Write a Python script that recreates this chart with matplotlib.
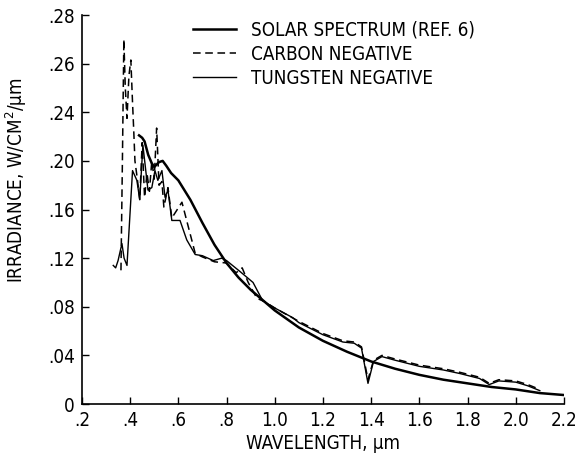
import matplotlib
matplotlib.use("Agg")
import matplotlib.pyplot as plt

plt.rcParams['font.family'] = ['DejaVu Sans']
plt.rcParams['font.stretch'] = 'condensed'

# solar spectrum (ref. 6)
solar_x = [0.437, 0.45, 0.46, 0.475, 0.49, 0.50, 0.52, 0.535, 0.55, 0.57, 0.60, 0.65, 0.70,
           0.75, 0.80, 0.85, 0.90, 1.0, 1.1, 1.2, 1.3, 1.4, 1.5, 1.6, 1.7, 1.8, 1.9, 2.0, 2.1, 2.2]
solar_y = [0.221, 0.219, 0.216, 0.205, 0.198, 0.195, 0.199, 0.200, 0.196, 0.190, 0.184, 0.168, 0.149,
           0.131, 0.116, 0.104, 0.094, 0.077, 0.063, 0.052, 0.043, 0.035, 0.029, 0.024, 0.020, 0.017,
           0.014, 0.012, 0.009, 0.0074]

# tungsten negative
tung_x = [0.33, 0.34, 0.35, 0.366, 0.375, 0.387, 0.41, 0.428, 0.44, 0.453, 0.474, 0.49, 0.503, 0.515,
          0.532, 0.545, 0.557, 0.573, 0.607, 0.635, 0.67, 0.70, 0.745, 0.78, 0.80, 0.856, 0.91, 0.95,
          1.0, 1.075, 1.1, 1.2, 1.283, 1.33, 1.36, 1.387, 1.41, 1.445, 1.5, 1.6, 1.7, 1.77, 1.85,
          1.89, 1.93, 2.0, 2.05, 2.1]
tung_y = [0.114, 0.112, 0.118, 0.132, 0.120, 0.114, 0.192, 0.184, 0.168, 0.213, 0.176, 0.178, 0.192,
          0.184, 0.192, 0.170, 0.176, 0.151, 0.151, 0.135, 0.123, 0.122, 0.118, 0.120, 0.118, 0.109,
          0.100, 0.085, 0.079, 0.071, 0.067, 0.057, 0.051, 0.050, 0.046, 0.017, 0.035, 0.039, 0.036,
          0.031, 0.028, 0.025, 0.021, 0.016, 0.019, 0.018, 0.015, 0.011]

# carbon negative
carb_x = [0.362, 0.368, 0.374, 0.38, 0.387, 0.395, 0.403, 0.41, 0.415, 0.42, 0.43, 0.44, 0.45, 0.46,
          0.47, 0.48, 0.49, 0.50, 0.51, 0.52, 0.532, 0.54, 0.557, 0.573, 0.615, 0.67, 0.70, 0.75,
          0.80, 0.84, 0.865, 0.89, 0.926, 0.96, 1.0, 1.1, 1.2, 1.283, 1.33, 1.36, 1.387, 1.41,
          1.445, 1.5, 1.6, 1.7, 1.77, 1.85, 1.89, 1.93, 2.0, 2.05, 2.1]
carb_y = [0.110, 0.200, 0.300, 0.260, 0.235, 0.270, 0.283, 0.248, 0.225, 0.200, 0.185, 0.168, 0.215,
          0.170, 0.190, 0.175, 0.200, 0.185, 0.227, 0.180, 0.183, 0.162, 0.178, 0.153, 0.166, 0.124,
          0.121, 0.117, 0.116, 0.108, 0.112, 0.100, 0.087, 0.084, 0.079, 0.068, 0.058, 0.052, 0.051,
          0.047, 0.020, 0.036, 0.040, 0.037, 0.032, 0.029, 0.026, 0.022, 0.017, 0.020, 0.019, 0.016,
          0.012]

xticks = [0.2, 0.4, 0.6, 0.8, 1.0, 1.2, 1.4, 1.6, 1.8, 2.0, 2.2]
xtick_labels = ['.2', '.4', '.6', '.8', '1.0', '1.2', '1.4', '1.6', '1.8', '2.0', '2.2']
yticks = [0, 0.04, 0.08, 0.12, 0.16, 0.20, 0.24, 0.28, 0.32]
ytick_labels = ['0', '.04', '.08', '.12', '.16', '.20', '.24', '.26', '.28']

fig = plt.figure(figsize=(5.81, 4.62), dpi=100)
ax = fig.add_axes([0.141, 0.1255, 0.8296, 0.842])

ax.plot(solar_x, solar_y, color='black', lw=1.8, label='SOLAR SPECTRUM (REF. 6)')
ax.plot(carb_x, carb_y, color='black', lw=1.1, dashes=(5, 3), label='CARBON NEGATIVE')
ax.plot(tung_x, tung_y, color='black', lw=1.0, label='TUNGSTEN NEGATIVE')

ax.set_xlim(0.2, 2.2)
ax.set_ylim(0, 0.32)
ax.set_xticks(xticks)
ax.set_xticklabels(xtick_labels)
ax.set_yticks(yticks)
ax.set_yticklabels(ytick_labels)
ax.tick_params(direction='in', length=5, width=1, labelsize=13.5, pad=5)

ax.spines['top'].set_visible(False)
ax.spines['right'].set_visible(False)
ax.spines['left'].set_linewidth(1.2)
ax.spines['bottom'].set_linewidth(1.2)

ax.set_xlabel('WAVELENGTH, \u03bcm', fontsize=13.5, labelpad=3)
ax.set_ylabel('IRRADIANCE, W/CM$^2$/\u03bcm', fontsize=13.5, labelpad=8)
ax.yaxis.set_label_coords(-0.11, 0.575)

ax.legend(loc='upper left', bbox_to_anchor=(0.23, 0.985), frameon=False, fontsize=13.5,
          borderpad=0, borderaxespad=0, handlelength=2.3, handletextpad=0.8,
          labelspacing=0.26)

fig.savefig('out.png', dpi=100)
